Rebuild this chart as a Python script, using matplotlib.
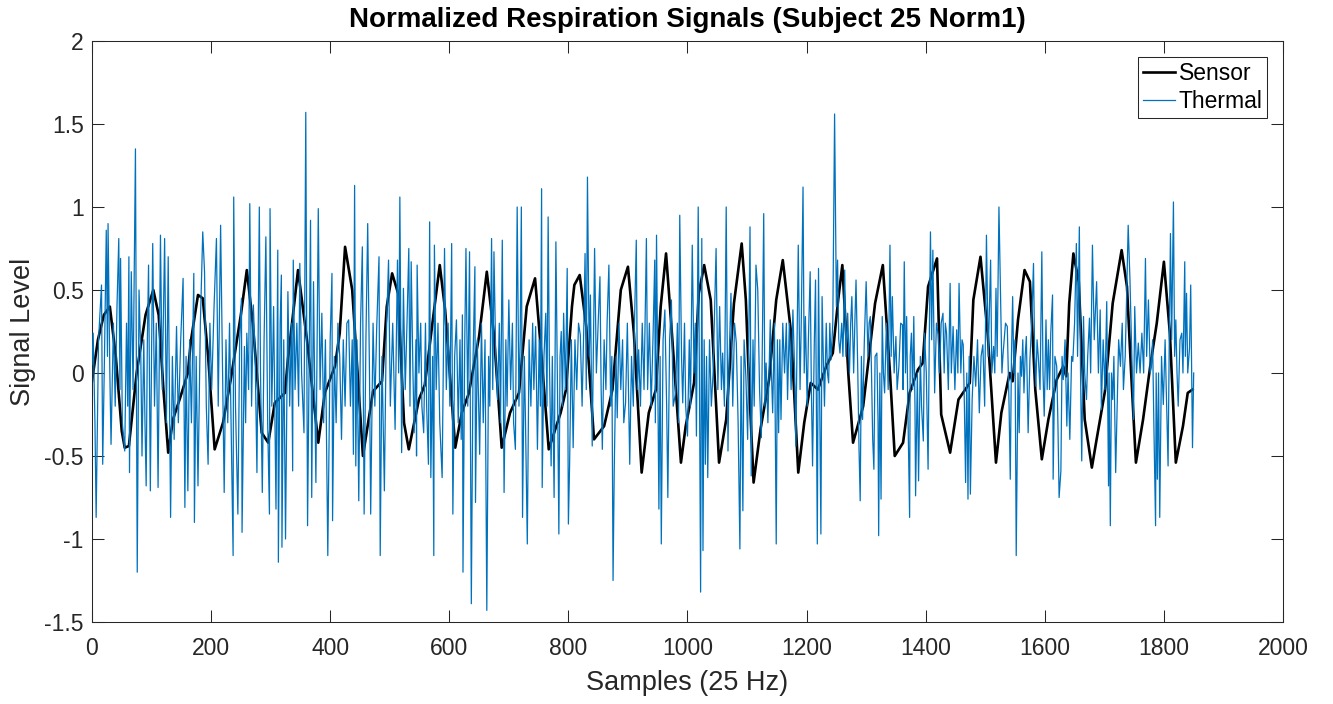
import matplotlib
matplotlib.use("Agg")
import matplotlib.pyplot as plt
import numpy as np

plt.rcParams['font.family'] = ['Liberation Sans', 'DejaVu Sans']

title = "Normalized Respiration Signals (Subject 25 Norm1)"
xlabel = "Samples (25 Hz)"
ylabel = "Signal Level"
series_names = ["Sensor", "Thermal"]
x_ticks = [0, 200, 400, 600, 800, 1000, 1200, 1400, 1600, 1800, 2000]
y_ticks = [-1.5, -1, -0.5, 0, 0.5, 1, 1.5, 2]
y_tick_labels = ["-1.5", "-1", "-0.5", "0", "0.5", "1", "1.5", "2"]

sensor_samples = [0, 10, 20, 30, 40, 50, 55, 62, 75, 90, 103, 112, 120, 128, 136, 148, 161, 166, 178, 186,
                  195, 206, 220, 233, 250, 260, 270, 285, 296, 307, 324, 329, 346, 361, 380, 391, 408, 416,
                  425, 437, 455, 472, 487, 495, 504, 514, 524, 532, 549, 559, 571, 584, 593, 610, 621, 633,
                  650, 663, 675, 688, 702, 717, 730, 744, 756, 767, 787, 796, 806, 810, 819, 830, 843, 860,
                  874, 888, 900, 910, 923, 935, 947, 955, 964, 974, 989, 997, 1011, 1019, 1028, 1039, 1053,
                  1065, 1078, 1091, 1098, 1103, 1111, 1123, 1137, 1149, 1160, 1174, 1186, 1196, 1207, 1219,
                  1233, 1244, 1253, 1260, 1270, 1278, 1295, 1308, 1315, 1328, 1340, 1348, 1362, 1373, 1387,
                  1395, 1404, 1419, 1426, 1441, 1455, 1474, 1480, 1492, 1504, 1518, 1527, 1541, 1546, 1555,
                  1566, 1575, 1584, 1595, 1606, 1620, 1631, 1636, 1641, 1648, 1657, 1667, 1679, 1687, 1701,
                  1714, 1729, 1738, 1745, 1753, 1765, 1777, 1788, 1800, 1810, 1820, 1832, 1840, 1848]
sensor_values = [-0.05, 0.2, 0.35, 0.4, 0.1, -0.35, -0.45, -0.44, 0.0, 0.35, 0.5, 0.35, -0.1, -0.48, -0.28,
                 -0.15, 0.0, 0.19, 0.47, 0.45, 0.1, -0.46, -0.3, -0.04, 0.35, 0.62, 0.3, -0.36, -0.42, -0.18,
                 -0.12, 0.08, 0.62, 0.2, -0.42, -0.12, 0.04, 0.24, 0.76, 0.5, -0.5, -0.11, -0.05, 0.4, 0.6,
                 0.48, -0.3, -0.46, -0.16, -0.07, 0.28, 0.65, 0.38, -0.45, -0.24, -0.12, 0.22, 0.61, 0.23,
                 -0.45, -0.24, -0.12, 0.4, 0.57, 0.05, -0.46, -0.24, -0.1, 0.4, 0.53, 0.59, 0.28, -0.4, -0.32,
                 -0.1, 0.5, 0.64, 0.24, -0.6, -0.24, -0.1, 0.4, 0.72, 0.23, -0.54, -0.32, -0.06, 0.48, 0.65,
                 0.44, -0.54, -0.28, 0.42, 0.78, 0.44, -0.03, -0.66, -0.33, -0.04, 0.44, 0.68, 0.24, -0.6,
                 -0.3, -0.06, -0.1, 0.04, 0.12, 0.44, 0.65, 0.0, -0.42, -0.2, 0.2, 0.42, 0.65, 0.0, -0.5,
                 -0.42, -0.12, 0.02, 0.06, 0.52, 0.69, -0.25, -0.48, -0.16, -0.06, 0.44, 0.7, 0.24, -0.54,
                 -0.24, 0.0, -0.05, 0.32, 0.62, 0.55, -0.1, -0.52, -0.28, -0.04, 0.04, -0.02, 0.42, 0.72,
                 0.55, -0.28, -0.57, -0.4, -0.11, 0.42, 0.74, 0.52, 0.0, -0.54, -0.28, 0.04, 0.3, 0.67,
                 0.24, -0.54, -0.32, -0.12, -0.1]

thermal_points = [
    (0, 0.05), (2, 0.24), (5, -0.3), (7, -0.87), (11, 0.2), (16, 0.53), (18, -0.55), (21, 0.1), (24, 0.86),
    (26, 0.1), (27, 0.9), (30, 0.0), (32, -0.43), (36, 0.3), (39, -0.2), (42, 0.4), (45, 0.81), (47, -0.1),
    (48, 0.69), (51, -0.3), (55, -0.47), (58, 0.3), (60, -0.2), (62, 0.7), (63, -0.6), (66, 0.61), (69, -0.1),
    (73, 1.35), (76, -1.2), (79, 0.5), (82, 0.1), (84, -0.5), (87, 0.2), (89, -0.3), (91, -0.68), (93, 0.2),
    (95, 0.65), (98, -0.71), (100, 0.1), (102, 0.78), (105, -0.2), (108, 0.3), (111, -0.69), (115, 0.83),
    (118, -0.1), (122, 0.81), (125, -0.3), (128, 0.7), (132, -0.87), (135, 0.1), (138, -0.4), (142, 0.28),
    (145, -0.3), (149, 0.2), (153, 0.57), (156, -0.81), (158, 0.1), (161, -0.71), (164, 0.2), (167, -0.3),
    (171, 0.6), (172, -0.9), (175, 0.1), (178, -0.68), (182, 0.3), (186, 0.85), (189, 0.61), (192, -0.2),
    (195, -0.55), (198, 0.3), (201, -0.1), (205, 0.4), (209, 0.81), (212, -0.2), (216, 0.89), (219, 0.1),
    (222, -0.72), (225, 0.2), (228, -0.3), (231, 0.3), (234, -0.4), (237, -1.1), (238, 1.06), (241, -0.2),
    (245, -0.85), (248, 0.2), (251, 0.45), (252, -0.96), (256, 0.16), (258, -0.3), (260, 0.24), (263, -0.1),
    (265, 1.02), (268, -0.2), (271, 0.41), (274, 0.1), (277, -0.6), (281, 1.0), (283, 0.0), (286, -0.72),
    (289, 0.2), (292, 0.82), (295, -0.3), (298, -0.85), (299, 0.99), (302, -0.2), (305, 0.4), (309, -0.82),
    (312, 0.74), (313, -1.14), (316, 0.3), (318, 0.59), (319, -1.05), (322, 0.2), (325, -1.0), (329, 0.49),
    (332, -0.2), (335, 0.3), (337, -0.59), (338, 0.68), (341, -0.1), (344, 0.3), (347, -0.2), (349, 0.66),
    (352, 0.0), (356, -0.36), (359, 1.57), (362, -0.92), (365, 0.2), (367, 0.92), (369, -0.75), (372, 0.55),
    (374, -0.1), (376, -0.66), (380, 0.99), (383, -0.1), (386, 0.36), (389, -0.3), (392, 0.2), (396, -1.1),
    (400, 0.2), (403, 0.6), (404, -0.89), (407, 0.1), (410, -0.3), (413, 0.3), (416, 0.1), (419, -0.4),
    (422, 0.2), (425, -0.2), (428, 0.3), (431, 0.32), (434, -0.2), (437, 0.2), (439, -0.49), (441, 1.13),
    (443, -0.56), (445, 0.2), (448, -0.77), (451, 0.3), (454, 0.76), (457, -0.85), (460, 0.2), (463, 0.9),
    (466, 0.0), (468, -0.85), (472, 0.3), (475, -0.2), (478, 0.26), (482, 0.7), (484, -1.1), (487, 0.1),
    (491, -0.71), (494, 0.2), (498, 0.68), (501, -0.2), (505, 0.3), (509, -0.34), (513, 0.68), (515, 0.0),
    (517, 1.06), (520, -0.48), (523, 0.51), (526, -0.1), (529, 0.3), (532, 0.75), (534, -0.2), (536, 0.67),
    (539, 0.0), (541, -0.36), (544, 0.2), (545, -0.5), (546, 0.65), (549, 0.0), (552, 0.3), (554, -0.2),
    (557, -0.36), (560, 0.3), (562, -0.2), (565, -0.55), (567, 0.91), (569, -0.63), (572, 0.1), (574, -1.1),
    (575, 0.77), (578, -0.1), (581, 0.3), (584, -0.3), (588, -0.63), (592, 0.75), (595, -0.1), (598, 0.3),
    (601, -0.2), (604, 0.78), (606, -0.85), (609, 0.1), (612, 0.32), (615, -0.3), (618, 0.2), (620, -0.4),
    (622, 0.35), (623, -1.2), (626, 0.2), (628, 0.75), (631, -0.2), (634, 0.73), (637, -1.39), (640, 0.1),
    (643, 0.64), (644, -0.78), (647, 0.2), (651, -0.49), (654, 0.3), (657, -0.3), (660, 0.2), (663, -1.43),
    (666, 0.1), (668, -0.2), (671, 0.81), (673, -0.1), (675, 0.73), (678, 0.1), (681, -0.16), (684, 0.3),
    (686, -0.3), (689, 0.8), (692, -0.72), (695, 0.2), (697, -0.2), (700, 0.44), (703, -0.1), (706, 0.3),
    (708, -0.3), (711, -0.46), (714, 1.0), (717, -0.2), (719, 0.2), (721, 1.0), (723, -0.87), (726, 0.1),
    (728, -0.3), (731, -1.03), (734, 0.2), (737, -0.2), (740, 0.3), (742, -0.1), (745, 0.28), (748, -0.46),
    (751, 0.2), (753, -0.2), (755, 1.11), (756, -0.69), (759, 0.1), (762, 0.36), (764, -0.2), (766, 0.94),
    (768, 0.1), (771, -0.56), (773, 0.1), (776, -0.75), (779, 0.79), (782, -0.2), (784, -0.97), (786, 0.1),
    (788, 0.25), (790, -0.2), (792, 0.36), (795, -0.1), (798, 0.63), (800, -0.91), (802, -0.56), (805, 0.2),
    (808, -0.45), (811, 0.2), (814, -0.1), (817, 0.3), (820, 0.23), (823, -0.2), (826, 0.3), (828, 0.72),
    (830, -0.1), (832, 1.18), (835, 0.1), (837, 0.47), (840, -0.44), (844, 0.75), (847, 0.0), (850, 0.3),
    (853, 0.58), (855, -0.1), (857, -0.46), (860, 0.2), (863, -0.1), (865, 0.3), (868, 0.65), (871, -0.2),
    (873, 0.1), (875, -1.25), (877, -0.58), (880, 0.1), (882, -0.27), (885, 0.3), (888, -0.1), (891, 0.2),
    (893, -0.3), (896, -0.18), (899, 0.3), (903, -0.55), (906, 0.1), (909, -0.2), (911, 0.3), (914, 0.8),
    (916, -0.1), (918, 0.14), (921, -0.2), (924, 0.3), (927, -0.1), (931, 0.81), (933, -0.1), (936, 0.3),
    (939, -0.2), (942, 0.2), (945, 0.68), (946, -0.3), (948, 0.83), (952, -0.82), (954, 0.1), (956, -1.03),
    (959, 0.2), (962, 0.38), (965, -0.2), (967, -0.75), (970, 0.2), (973, 0.44), (976, -0.2), (980, -0.12),
    (983, 0.3), (985, -0.3), (987, 0.95), (990, 0.1), (992, -0.18), (995, 0.3), (997, -0.2), (1000, -0.38),
    (1003, 0.2), (1005, -0.2), (1008, 0.77), (1011, 0.0), (1013, 0.3), (1015, -0.38), (1018, 1.0), (1020, 0.0),
    (1022, -1.32), (1024, 0.81), (1026, -1.07), (1028, 0.2), (1030, -0.55), (1032, 0.1), (1034, -0.63),
    (1037, 0.2), (1040, -0.2), (1043, 0.0), (1045, 0.3), (1048, 0.75), (1051, -0.1), (1054, 0.4), (1057, -0.1),
    (1059, 0.12), (1062, -0.2), (1065, 1.0), (1068, -0.47), (1070, 0.1), (1073, 0.48), (1076, -0.2),
    (1079, 0.3), (1082, 0.18), (1085, -0.3), (1088, -1.06), (1090, 0.1), (1093, -0.83), (1095, 0.2),
    (1098, -0.02), (1101, -0.4), (1105, 0.88), (1107, -0.62), (1110, 0.2), (1112, -0.2), (1115, 0.65),
    (1118, 0.5), (1121, -0.1), (1124, -0.39), (1128, 0.96), (1130, -0.2), (1132, 0.06), (1135, -0.3),
    (1139, 0.32), (1141, 0.0), (1143, -0.24), (1146, 0.3), (1149, -1.03), (1151, 0.2), (1153, -0.36),
    (1155, 0.2), (1157, -0.28), (1160, 0.3), (1163, 0.0), (1166, 0.3), (1168, -0.16), (1171, 0.3),
    (1174, -0.1), (1177, 0.38), (1180, 0.0), (1182, -0.44), (1184, 0.2), (1186, 0.77), (1189, -0.1),
    (1191, 0.3), (1194, 1.12), (1196, 0.0), (1198, 0.34), (1201, -0.2), (1203, 0.2), (1206, 0.61),
    (1208, -0.1), (1210, -0.56), (1213, 0.2), (1215, 0.56), (1218, -1.03), (1220, 0.63), (1222, -0.2),
    (1224, -0.97), (1226, 0.46), (1228, 0.1), (1230, -0.2), (1233, 0.3), (1235, 0.0), (1237, -0.06),
    (1239, 0.3), (1241, 0.08), (1244, 0.3), (1247, 1.56), (1250, 0.4), (1252, 0.68), (1254, 0.2),
    (1256, 0.12), (1259, 0.3), (1261, 0.1), (1264, 0.62), (1266, 0.1), (1269, 0.36), (1272, 0.0),
    (1274, 0.3), (1276, 0.46), (1279, 0.0), (1281, 0.3), (1283, 0.56), (1286, 0.0), (1288, -0.45),
    (1290, -0.77), (1292, 0.1), (1294, -0.28), (1297, 0.2), (1300, 0.55), (1303, 0.1), (1305, 0.3),
    (1307, 0.34), (1309, 0.0), (1311, -0.4), (1313, -0.58), (1315, 0.1), (1318, 0.12), (1320, -0.3),
    (1321, -0.98), (1323, 0.0), (1325, -0.76), (1327, 0.34), (1329, 0.0), (1331, -0.12), (1334, 0.3),
    (1337, -0.1), (1340, 0.77), (1342, 0.1), (1344, 0.46), (1347, 0.0), (1350, 0.22), (1352, -0.1),
    (1355, 0.04), (1358, 0.3), (1361, 0.29), (1362, -0.1), (1364, 0.67), (1366, 0.0), (1368, 0.34),
    (1370, -0.2), (1373, -0.87), (1374, 0.1), (1376, 0.24), (1378, -0.1), (1380, 0.34), (1382, -0.2),
    (1383, -0.74), (1386, 0.0), (1388, -0.65), (1391, 0.1), (1393, -0.2), (1396, -0.41), (1398, 0.24),
    (1401, 0.0), (1404, -0.58), (1406, 0.2), (1408, 0.85), (1410, 0.2), (1412, 0.74), (1415, -0.12),
    (1418, 0.3), (1421, 0.23), (1423, 0.0), (1426, 0.3), (1429, 0.36), (1431, 0.0), (1433, 0.3),
    (1435, 0.24), (1438, -0.1), (1441, 0.54), (1443, 0.0), (1446, 0.28), (1449, -0.1), (1452, 0.26),
    (1454, 0.0), (1456, 0.54), (1459, 0.0), (1461, 0.2), (1463, 0.17), (1465, -0.2), (1467, -0.66),
    (1469, 0.0), (1471, -0.76), (1473, 0.1), (1475, -0.73), (1478, -0.16), (1481, 0.1), (1484, -0.08),
    (1487, 0.2), (1490, -0.24), (1493, 0.1), (1496, 0.17), (1499, -0.2), (1502, 0.83), (1505, 0.1),
    (1509, 0.68), (1511, 0.0), (1514, 0.16), (1516, 0.0), (1518, 0.51), (1520, 0.1), (1523, 1.0),
    (1526, 0.41), (1528, 0.0), (1530, 0.12), (1534, 0.3), (1537, 0.28), (1540, -0.2), (1542, -0.64),
    (1544, 0.1), (1546, 0.46), (1548, 0.0), (1550, 0.2), (1552, -1.1), (1555, 0.0), (1557, -0.36),
    (1559, 0.1), (1561, -0.02), (1563, 0.2), (1565, -0.12), (1567, 0.1), (1569, 0.22), (1572, -0.36),
    (1575, 0.08), (1578, 0.3), (1581, 0.66), (1583, 0.1), (1585, -0.08), (1587, 0.2), (1589, 0.1),
    (1592, -0.1), (1595, 0.73), (1597, 0.0), (1599, -0.26), (1602, 0.32), (1604, -0.1), (1606, 0.2),
    (1608, -0.1), (1610, 0.24), (1613, 0.47), (1614, -0.64), (1617, 0.1), (1620, 0.04), (1622, -0.3),
    (1624, -0.75), (1627, -0.59), (1629, 0.1), (1631, -0.04), (1634, 0.2), (1637, -0.32), (1639, 0.0),
    (1642, -0.4), (1645, 0.1), (1647, 0.07), (1650, 0.3), (1653, 0.78), (1655, 0.1), (1658, 0.88),
    (1660, 0.0), (1662, -0.53), (1665, 0.34), (1667, 0.0), (1670, -0.16), (1672, 0.1), (1675, 0.33),
    (1677, 0.0), (1680, 0.77), (1683, 0.2), (1687, 0.55), (1690, 0.0), (1693, 0.38), (1695, -0.22),
    (1698, 0.2), (1701, -0.1), (1704, 0.43), (1707, -0.68), (1708, 0.0), (1710, -0.92), (1712, 0.0),
    (1714, -0.16), (1716, 0.1), (1719, -0.6), (1722, -0.12), (1724, 0.2), (1727, 0.04), (1730, 0.3),
    (1732, -0.1), (1735, 0.1), (1737, 0.4), (1740, 0.89), (1743, 0.56), (1746, 0.12), (1749, -0.28),
    (1751, 0.4), (1754, 0.0), (1757, 0.18), (1760, 0.0), (1763, 0.24), (1766, 0.0), (1769, 0.69),
    (1771, 0.1), (1774, 0.44), (1777, 0.0), (1779, 0.04), (1781, 0.2), (1783, -0.28), (1786, -0.92),
    (1787, 0.0), (1789, -0.64), (1791, 0.0), (1793, -0.87), (1796, 0.1), (1799, -0.19), (1802, 0.2),
    (1804, -0.1), (1807, -0.56), (1809, 0.2), (1811, 0.84), (1813, 0.2), (1816, 1.03), (1818, 0.1),
    (1820, 0.32), (1822, 0.0), (1824, -0.2), (1827, 0.2), (1830, 0.24), (1832, 0.0), (1835, 0.67),
    (1836, 0.1), (1838, 0.48), (1840, 0.0), (1843, 0.15), (1845, 0.53), (1848, -0.45), (1850, 0.0),
]
thermal_samples = [p[0] for p in thermal_points]
thermal_values = [p[1] for p in thermal_points]

fig = plt.figure(figsize=(13.33, 7.04), dpi=100)
ax = fig.add_axes([0.069, 0.1165, 0.8935, 0.8253])

ax.plot(sensor_samples, sensor_values, color='black', lw=1.9, label=series_names[0], zorder=2)
ax.plot(thermal_samples, thermal_values, color='#0072BD', lw=0.9, label=series_names[1], zorder=3)

ax.set_xlim(0, 2000)
ax.set_ylim(-1.5, 2)
ax.set_xticks(x_ticks)
ax.set_yticks(y_ticks)
ax.set_yticklabels(y_tick_labels)
ax.tick_params(direction='in', length=8.5, width=0.75, colors='#262626', labelsize=16.5,
               top=True, right=True)
ax.tick_params(axis='x', pad=11)
ax.tick_params(axis='y', pad=6)
for s in ax.spines.values():
    s.set_color('#262626')
    s.set_linewidth(0.75)

ax.set_xlabel(xlabel, fontsize=19.5, color='#262626', labelpad=7)
ax.set_ylabel(ylabel, fontsize=19.5, color='#262626', labelpad=6)
ax.set_title(title, fontsize=20, fontweight='bold', color='black', pad=10)

leg = ax.legend(loc='upper right', fontsize=16.5, frameon=True, fancybox=False, framealpha=1,
                edgecolor='#262626', borderaxespad=0.7, handlelength=1.4, handletextpad=0.15,
                borderpad=0.2, labelspacing=0.25)
leg.get_frame().set_linewidth(0.75)

fig.savefig('out.png', dpi=100)
